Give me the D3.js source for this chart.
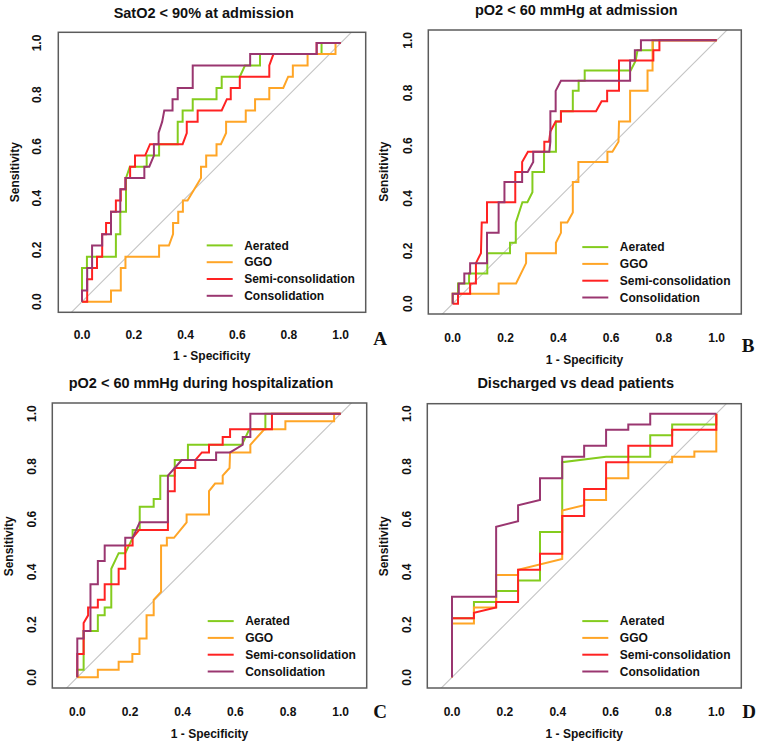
<!DOCTYPE html>
<html>
<head>
<meta charset="utf-8">
<script src="https://cdn.jsdelivr.net/npm/d3@7"></script>
<style>
  body { margin: 0; background: #fff; }
  svg { display: block; }
  text { font-family: "Liberation Sans", Arial, sans-serif; font-weight: bold; fill: #111; }
</style>
</head>
<body>
<svg id="chart" width="758" height="746"></svg>
<script>
// --- Data: ROC curves as [1 - specificity, sensitivity] vertices ---
const seriesNames = ["Aerated", "GGO", "Semi-consolidation", "Consolidation"];
const seriesColors = ["#84cc1e", "#ffa526", "#ff2222", "#9a3670"];
const panelTitles = ["SatO2 < 90% at admission", "pO2 < 60 mmHg at admission",
                     "pO2 < 60 mmHg during hospitalization", "Discharged vs dead patients"];
const panelLetters = ["A", "B", "C", "D"];
const tickValues = [0, 0.2, 0.4, 0.6, 0.8, 1.0];

// A: SatO2 < 90% at admission
const satAerated = [[0,0],[0,0.13],[0.019,0.13],[0.019,0.174],[0.131,0.174],[0.131,0.261],[0.148,0.261],[0.148,0.348],[0.17,0.348],[0.17,0.478],[0.185,0.522],[0.25,0.522],[0.25,0.565],[0.298,0.565],[0.298,0.609],[0.37,0.609],[0.37,0.696],[0.389,0.696],[0.389,0.739],[0.428,0.739],[0.428,0.783],[0.52,0.783],[0.52,0.826],[0.54,0.826],[0.54,0.87],[0.61,0.87],[0.63,0.913],[0.688,0.913],[0.688,0.957],[0.926,0.957],[0.926,1],[1,1]];
const satGGO = [[0,0],[0.112,0],[0.112,0.043],[0.15,0.043],[0.15,0.13],[0.168,0.13],[0.168,0.174],[0.298,0.174],[0.298,0.217],[0.336,0.217],[0.352,0.261],[0.352,0.304],[0.372,0.304],[0.372,0.348],[0.39,0.348],[0.39,0.391],[0.408,0.391],[0.46,0.478],[0.46,0.522],[0.48,0.522],[0.48,0.565],[0.52,0.565],[0.52,0.609],[0.537,0.609],[0.557,0.652],[0.557,0.696],[0.633,0.696],[0.633,0.739],[0.669,0.739],[0.669,0.783],[0.724,0.783],[0.724,0.826],[0.778,0.826],[0.797,0.87],[0.815,0.87],[0.815,0.913],[0.872,0.913],[0.872,0.957],[0.98,0.957],[0.98,1],[1,1]];
const satSemi = [[0,0],[0.02,0],[0.02,0.087],[0.039,0.087],[0.039,0.13],[0.058,0.13],[0.058,0.174],[0.078,0.174],[0.078,0.261],[0.093,0.261],[0.093,0.304],[0.112,0.304],[0.112,0.348],[0.131,0.348],[0.131,0.391],[0.15,0.391],[0.15,0.435],[0.168,0.435],[0.168,0.478],[0.186,0.478],[0.186,0.522],[0.205,0.522],[0.205,0.565],[0.244,0.565],[0.263,0.609],[0.389,0.609],[0.405,0.652],[0.405,0.696],[0.447,0.696],[0.447,0.739],[0.54,0.739],[0.56,0.783],[0.575,0.783],[0.575,0.826],[0.61,0.826],[0.61,0.87],[0.724,0.87],[0.724,0.913],[0.74,0.957],[0.907,0.957],[0.907,1],[1,1]];
const satConsol = [[0,0],[0,0.043],[0.02,0.043],[0.02,0.13],[0.039,0.13],[0.039,0.217],[0.078,0.217],[0.078,0.261],[0.112,0.261],[0.112,0.348],[0.148,0.348],[0.148,0.435],[0.168,0.435],[0.168,0.478],[0.241,0.478],[0.241,0.522],[0.26,0.522],[0.278,0.565],[0.278,0.609],[0.296,0.609],[0.296,0.652],[0.31,0.696],[0.318,0.739],[0.35,0.739],[0.35,0.783],[0.37,0.783],[0.37,0.826],[0.428,0.826],[0.428,0.913],[0.65,0.913],[0.65,0.957],[0.907,0.957],[0.907,1],[1,1]];

// B: pO2 < 60 mmHg at admission
const admAerated = [[0,0],[0,0.038],[0.02,0.038],[0.02,0.077],[0.062,0.077],[0.062,0.115],[0.131,0.115],[0.131,0.192],[0.217,0.192],[0.217,0.231],[0.239,0.231],[0.239,0.308],[0.264,0.385],[0.283,0.385],[0.302,0.423],[0.302,0.5],[0.346,0.5],[0.346,0.577],[0.391,0.577],[0.391,0.692],[0.41,0.692],[0.41,0.731],[0.455,0.731],[0.455,0.808],[0.477,0.808],[0.477,0.846],[0.5,0.846],[0.5,0.885],[0.674,0.885],[0.693,0.923],[0.7,0.962],[0.758,0.962],[0.758,1],[1,1]];
const admGGO = [[0,0],[0,0.038],[0.174,0.038],[0.174,0.077],[0.24,0.077],[0.278,0.154],[0.278,0.192],[0.391,0.192],[0.391,0.231],[0.41,0.269],[0.41,0.308],[0.434,0.308],[0.455,0.346],[0.455,0.462],[0.476,0.462],[0.476,0.538],[0.586,0.538],[0.586,0.577],[0.605,0.577],[0.628,0.615],[0.63,0.692],[0.672,0.692],[0.672,0.808],[0.738,0.808],[0.738,0.885],[0.757,0.885],[0.757,1],[1,1]];
const admSemi = [[0,0],[0.02,0],[0.02,0.038],[0.066,0.038],[0.066,0.077],[0.088,0.077],[0.088,0.154],[0.107,0.192],[0.11,0.308],[0.13,0.308],[0.13,0.385],[0.237,0.385],[0.237,0.5],[0.263,0.5],[0.263,0.538],[0.285,0.577],[0.347,0.577],[0.347,0.615],[0.365,0.615],[0.37,0.654],[0.39,0.692],[0.41,0.692],[0.41,0.731],[0.543,0.731],[0.564,0.769],[0.585,0.769],[0.585,0.808],[0.63,0.808],[0.63,0.923],[0.76,0.923],[0.76,0.962],[0.783,0.962],[0.783,1],[1,1]];
const admConsol = [[0,0],[0,0.038],[0.023,0.038],[0.023,0.077],[0.044,0.077],[0.044,0.115],[0.066,0.115],[0.066,0.154],[0.13,0.154],[0.13,0.269],[0.174,0.269],[0.174,0.385],[0.196,0.385],[0.196,0.462],[0.263,0.462],[0.263,0.5],[0.284,0.5],[0.305,0.538],[0.305,0.577],[0.366,0.577],[0.37,0.615],[0.37,0.731],[0.39,0.731],[0.39,0.808],[0.41,0.846],[0.672,0.846],[0.672,0.923],[0.69,0.923],[0.69,0.962],[0.713,0.962],[0.713,1],[1,1]];

// C: pO2 < 60 mmHg during hospitalization
const hospAerated = [[0,0],[0,0.029],[0.024,0.029],[0.024,0.176],[0.078,0.176],[0.078,0.235],[0.104,0.235],[0.104,0.265],[0.129,0.265],[0.129,0.412],[0.157,0.471],[0.182,0.471],[0.21,0.529],[0.21,0.559],[0.237,0.559],[0.237,0.647],[0.29,0.647],[0.29,0.676],[0.315,0.676],[0.315,0.765],[0.37,0.765],[0.37,0.824],[0.42,0.824],[0.42,0.882],[0.625,0.882],[0.653,0.941],[0.714,0.941],[0.714,1],[1,1]];
const hospGGO = [[0,0],[0.078,0],[0.078,0.029],[0.157,0.029],[0.157,0.059],[0.209,0.059],[0.209,0.088],[0.236,0.088],[0.236,0.147],[0.263,0.147],[0.263,0.235],[0.29,0.235],[0.29,0.294],[0.318,0.324],[0.318,0.5],[0.34,0.5],[0.34,0.529],[0.367,0.529],[0.415,0.588],[0.415,0.618],[0.5,0.618],[0.5,0.706],[0.523,0.735],[0.552,0.735],[0.552,0.765],[0.578,0.794],[0.58,0.853],[0.657,0.853],[0.657,0.882],[0.71,0.941],[0.79,0.941],[0.79,0.971],[0.975,0.971],[0.975,1],[1,1]];
const hospSemi = [[0,0],[0,0.088],[0.024,0.088],[0.024,0.206],[0.041,0.235],[0.041,0.265],[0.078,0.265],[0.078,0.294],[0.104,0.294],[0.104,0.353],[0.157,0.353],[0.157,0.412],[0.182,0.412],[0.182,0.5],[0.21,0.5],[0.21,0.529],[0.235,0.559],[0.344,0.559],[0.344,0.706],[0.37,0.706],[0.37,0.794],[0.448,0.794],[0.448,0.824],[0.473,0.853],[0.5,0.853],[0.5,0.882],[0.552,0.882],[0.552,0.912],[0.58,0.912],[0.58,0.941],[0.739,0.941],[0.739,1],[1,1]];
const hospConsol = [[0,0],[0,0.147],[0.024,0.147],[0.024,0.176],[0.05,0.176],[0.05,0.353],[0.078,0.353],[0.078,0.441],[0.104,0.441],[0.104,0.5],[0.182,0.5],[0.182,0.529],[0.21,0.529],[0.237,0.588],[0.344,0.588],[0.344,0.765],[0.37,0.794],[0.396,0.824],[0.527,0.824],[0.527,0.853],[0.58,0.853],[0.628,0.882],[0.628,0.912],[0.657,0.912],[0.657,1],[1,1]];

// D: Discharged vs dead patients
const outAerated = [[0,0],[0,0.224],[0.083,0.224],[0.083,0.286],[0.167,0.286],[0.167,0.327],[0.25,0.327],[0.25,0.367],[0.333,0.367],[0.333,0.551],[0.417,0.551],[0.417,0.816],[0.583,0.837],[0.75,0.837],[0.75,0.918],[0.833,0.918],[0.833,0.959],[1,0.959],[1,1]];
const outGGO = [[0,0],[0,0.204],[0.083,0.204],[0.083,0.265],[0.167,0.265],[0.167,0.388],[0.25,0.388],[0.25,0.408],[0.417,0.449],[0.417,0.633],[0.5,0.653],[0.5,0.673],[0.583,0.673],[0.583,0.755],[0.667,0.755],[0.667,0.816],[0.833,0.816],[0.833,0.837],[0.917,0.837],[0.917,0.857],[1,0.857],[1,1]];
const outSemi = [[0,0],[0,0.224],[0.083,0.224],[0.083,0.245],[0.167,0.265],[0.167,0.286],[0.25,0.286],[0.25,0.408],[0.333,0.408],[0.333,0.469],[0.417,0.469],[0.417,0.612],[0.5,0.612],[0.5,0.714],[0.583,0.714],[0.583,0.816],[0.667,0.816],[0.667,0.878],[0.833,0.878],[0.833,0.939],[1,0.939],[1,1]];
const outConsol = [[0,0],[0,0.306],[0.167,0.306],[0.167,0.571],[0.25,0.592],[0.25,0.653],[0.333,0.673],[0.333,0.755],[0.417,0.755],[0.417,0.837],[0.5,0.837],[0.5,0.878],[0.583,0.878],[0.583,0.939],[0.667,0.939],[0.667,0.959],[0.75,0.959],[0.75,1],[1,1]];

const panelCurves = [
    [satAerated, satGGO, satSemi, satConsol],
    [admAerated, admGGO, admSemi, admConsol],
    [hospAerated, hospGGO, hospSemi, hospConsol],
    [outAerated, outGGO, outSemi, outConsol]
];

// --- Layout of each panel (pixel positions measured on the figure) ---
const layouts = [
    { box: [58.3, 32.3, 365.7, 312.3], x: [82, 340.7], y: [301.7, 43], title: [203.7, 17.7], xTickY: 339.3, xLab: [211.7, 360.3], yTickX: 36.7, yLab: [14.8, 172.2], letter: [380, 345] },
    { box: [428.3, 30, 741.3, 314], x: [452.7, 716.7], y: [303.7, 40.3], title: [576.3, 14.5], xTickY: 341.7, xLab: [584.5, 363.6], yTickX: 407.3, yLab: [383.8, 171.7], letter: [748, 352] },
    { box: [52.3, 403, 366.7, 688], x: [77.3, 340.7], y: [677.3, 413.7], title: [201, 388.4], xTickY: 716.3, xLab: [209.5, 737.6], yTickX: 31.7, yLab: [8.5, 546.3], letter: [380, 718] },
    { box: [427.3, 403.7, 741.3, 688], x: [452, 716.3], y: [677.3, 413.7], title: [575.7, 388.4], xTickY: 716.3, xLab: [584.3, 737.6], yTickX: 406.7, yLab: [383.5, 546.3], letter: [749, 718] }
];

const svg = d3.select("#chart");

layouts.forEach((L, p) => {
    const [bx0, by0, bx1, by1] = L.box;
    const xScale = d3.scaleLinear().domain([0, 1]).range(L.x);
    const yScale = d3.scaleLinear().domain([0, 1]).range(L.y);
    const g = svg.append("g");

    // clip to the plot box
    const clipId = "clip" + p;
    svg.append("clipPath").attr("id", clipId)
        .append("rect").attr("x", bx0).attr("y", by0).attr("width", bx1 - bx0).attr("height", by1 - by0);

    const plot = g.append("g").attr("clip-path", `url(#${clipId})`);

    // chance diagonal
    plot.append("line")
        .attr("x1", xScale(-0.2)).attr("y1", yScale(-0.2))
        .attr("x2", xScale(1.2)).attr("y2", yScale(1.2))
        .attr("stroke", "#c4c4c4").attr("stroke-width", 1.1);

    const line = d3.line().x(d => xScale(d[0])).y(d => yScale(d[1]));

    panelCurves[p].forEach((curve, i) => {
        plot.append("path")
            .datum(curve)
            .attr("fill", "none")
            .attr("stroke", seriesColors[i])
            .attr("stroke-width", 2)
            .attr("stroke-linejoin", "miter")
            .attr("d", line);
    });

    // frame
    g.append("rect")
        .attr("x", bx0).attr("y", by0).attr("width", bx1 - bx0).attr("height", by1 - by0)
        .attr("fill", "none").attr("stroke", "#5c5c5c").attr("stroke-width", 1.5);

    // x tick labels
    g.selectAll(".xt").data(tickValues).enter().append("text")
        .attr("x", d => xScale(d)).attr("y", L.xTickY)
        .attr("text-anchor", "middle").style("font-size", "12px")
        .text(d => d.toFixed(1));

    // y tick labels (rotated like R)
    g.selectAll(".yt").data(tickValues).enter().append("text")
        .attr("transform", d => `translate(${L.yTickX},${yScale(d)}) rotate(-90)`)
        .attr("dy", "0.35em")
        .attr("text-anchor", "middle").style("font-size", "12px")
        .text(d => d.toFixed(1));

    // titles and axis labels
    g.append("text").attr("x", L.title[0]).attr("y", L.title[1])
        .attr("text-anchor", "middle").style("font-size", "14.5px")
        .text(panelTitles[p]);
    g.append("text").attr("x", L.xLab[0]).attr("y", L.xLab[1])
        .attr("text-anchor", "middle").style("font-size", "12px")
        .text("1 - Specificity");
    g.append("text")
        .attr("transform", `translate(${L.yLab[0]},${L.yLab[1]}) rotate(-90)`)
        .attr("dy", "0.35em").attr("text-anchor", "middle").style("font-size", "12px")
        .text("Sensitivity");

    // legend, bottom right of the box
    const leg = g.append("g");
    seriesNames.forEach((name, i) => {
        const yy = by1 - 16.5 - (seriesNames.length - 1 - i) * 16.8;
        leg.append("line")
            .attr("x1", bx1 - 159).attr("x2", bx1 - 133)
            .attr("y1", yy).attr("y2", yy)
            .attr("stroke", seriesColors[i]).attr("stroke-width", 2);
        leg.append("text")
            .attr("x", bx1 - 121.5).attr("y", yy).attr("dy", "0.35em")
            .style("font-size", "12px")
            .text(name);
    });

    // panel letter
    g.append("text").attr("x", L.letter[0]).attr("y", L.letter[1])
        .attr("text-anchor", "middle")
        .style("font-family", "'Liberation Serif', 'Times New Roman', serif")
        .style("font-size", "19px")
        .text(panelLetters[p]);
});
</script>
</body>
</html>
